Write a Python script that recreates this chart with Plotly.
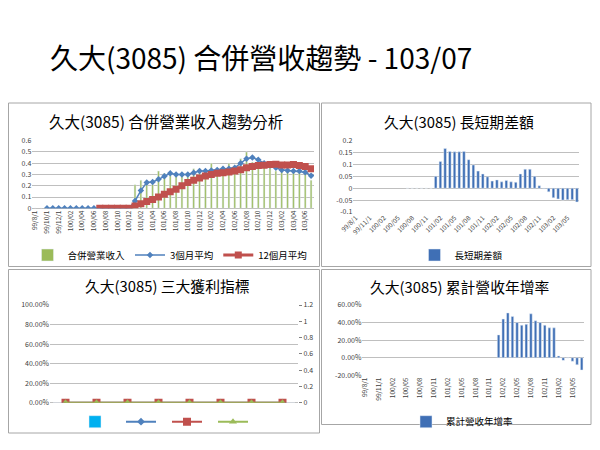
import plotly.graph_objects as go

FONT = "Noto Sans CJK TC"

months = (["99/8/1", "99/9/1", "99/10/1", "99/11/1", "99/12/1"]
          + [f"{y}/{m:02d}" for y in (100, 101, 102) for m in range(1, 13)]
          + [f"103/{m:02d}" for m in range(1, 8)])

revenue = ([0] * 17 +
           [0.21, 0.25, 0.23, 0.21, 0.33, 0.31, 0.29, 0.30, 0.31, 0.29, 0.35, 0.35,
            0.28, 0.40, 0.35, 0.30, 0.40, 0.36, 0.44, 0.50, 0.41, 0.38, 0.40, 0.36,
            0.33, 0.34, 0.34, 0.32, 0.34, 0.31, 0.25])
avg3 = ([None] * 2 + [0] * 15 +
        [0.065, 0.157, 0.23, 0.233, 0.257, 0.284, 0.31, 0.30, 0.30, 0.30, 0.316, 0.33,
         0.33, 0.335, 0.34, 0.35, 0.35, 0.36, 0.40, 0.44, 0.45, 0.43, 0.40, 0.38,
         0.36, 0.34, 0.335, 0.33, 0.33, 0.32, 0.29])
avg12 = ([None] * 11 + [0] * 6 +
         [0.02, 0.04, 0.06, 0.077, 0.10, 0.125, 0.148, 0.17, 0.20, 0.228, 0.25, 0.27,
          0.287, 0.30, 0.31, 0.316, 0.322, 0.33, 0.343, 0.36, 0.37, 0.38, 0.382, 0.388,
          0.39, 0.385, 0.385, 0.388, 0.38, 0.37, 0.352])
diff = ([None] * 11 + [0] * 6 +
        [0.05, 0.113, 0.167, 0.155, 0.153, 0.153, 0.155, 0.12, 0.098, 0.072, 0.06, 0.048,
         0.03, 0.035, 0.027, 0.033, 0.027, 0.025, 0.06, 0.08, 0.08, 0.05, 0.01, -0.002,
         -0.015, -0.04, -0.045, -0.05, -0.048, -0.048, -0.058])
growth = ([None] * 29 +
          [0.26, 0.44, 0.51, 0.47, 0.40, 0.37, 0.38, 0.50, 0.42, 0.40, 0.37, 0.34,
           0.34, 0.02, -0.03, -0.003, -0.04, -0.08, -0.14])

profit_cats = ["1", "2", "3", "4", "5", "6", "7", "8"]
profit_bar = [0, 0, 0, 0, 0, 0, 0, 0]
profit_l1 = [0, 0, 0, 0, 0, 0, 0, 0]
profit_l2 = [0, 0, 0, 0, 0, 0, 0, 0]
profit_l3 = [0, 0, 0, 0, 0, 0, 0, 0]

rev_ticks = [0, 0.1, 0.2, 0.3, 0.4, 0.5, 0.6]
rev_ticktext = ["0", "0.1", "0.2", "0.3", "0.4", "0.5", "0.6"]
diff_ticks = [0.2, 0.15, 0.1, 0.05, 0, -0.05, -0.1]
diff_ticktext = ["0.2", "0.15", "0.1", "0.05", "0", "-0.05", "-0.1"]
pct_ticks = [0, 0.2, 0.4, 0.6, 0.8, 1.0]
pct_ticktext = ["0.00%", "20.00%", "40.00%", "60.00%", "80.00%", "100.00%"]
right_ticks = [0, 0.2, 0.4, 0.6, 0.8, 1.0, 1.2]
right_ticktext = ["0", "0.2", "0.4", "0.6", "0.8", "1", "1.2"]
growth_ticks = [0.6, 0.4, 0.2, 0, -0.2]
growth_ticktext = ["60.00%", "40.00%", "20.00%", "0.00%", "-20.00%"]

GREEN = "#9BBB59"
BLUE = "#4F81BD"
RED = "#C0504D"
BARBLUE = "#3F6FB5"
GRID = "#BFBFBF"
TICKC = "#404040"

# the page body has an 8px margin; figure is sized to fit the 600x450 window
OFF = 8
W, H = 600 - OFF, 450 - OFF


def px_x(p):
    return (p - OFF) / W


def px_y(p):
    return 1 - (p - OFF) / H


fig = go.Figure()

# Panel 1
fig.add_trace(go.Bar(x=months, y=revenue, name="合併營業收入", marker_color=GREEN,
                     width=0.3, xaxis="x", yaxis="y", legend="legend"))
fig.add_trace(go.Scatter(x=months, y=avg3, name="3個月平均", mode="lines+markers",
                         line=dict(color=BLUE, width=1.5),
                         marker=dict(symbol="diamond", size=5, color=BLUE),
                         xaxis="x", yaxis="y", legend="legend"))
fig.add_trace(go.Scatter(x=months, y=avg12, name="12個月平均", mode="lines+markers",
                         line=dict(color=RED, width=3),
                         marker=dict(symbol="square", size=7, color=RED),
                         xaxis="x", yaxis="y", legend="legend"))
# Panel 2
fig.add_trace(go.Bar(x=months, y=diff, name="長短期差額", marker_color=BARBLUE,
                     width=0.55, xaxis="x2", yaxis="y2", legend="legend2"))
# Panel 3
fig.add_trace(go.Bar(x=profit_cats, y=profit_bar, name=" ", marker_color="#00B0F0",
                     xaxis="x3", yaxis="y3", legend="legend3"))
fig.add_trace(go.Scatter(x=profit_cats, y=profit_l1, name=" ", mode="lines+markers",
                         line=dict(color=BLUE, width=2),
                         marker=dict(symbol="diamond", size=6, color=BLUE),
                         xaxis="x3", yaxis="y4", legend="legend3"))
fig.add_trace(go.Scatter(x=profit_cats, y=profit_l2, name=" ", mode="lines+markers",
                         line=dict(color=RED, width=2),
                         marker=dict(symbol="square", size=8, color=RED),
                         xaxis="x3", yaxis="y4", legend="legend3"))
fig.add_trace(go.Scatter(x=profit_cats, y=profit_l3, name=" ", mode="lines+markers",
                         line=dict(color=GREEN, width=2),
                         marker=dict(symbol="triangle-up", size=7, color=GREEN),
                         xaxis="x3", yaxis="y4", legend="legend3"))
# Panel 4
fig.add_trace(go.Bar(x=months, y=growth, name="累計營收年增率", marker_color=BARBLUE,
                     width=0.55, xaxis="x4", yaxis="y5", legend="legend4"))

tickfont = dict(family=FONT, size=7, color=TICKC)
xtickfont = dict(family=FONT, size=6.5, color=TICKC)

common_x = dict(showgrid=False, showline=False, ticks="", automargin=False,
                zeroline=False)
common_y = dict(showgrid=True, gridcolor=GRID, gridwidth=1, zeroline=True,
                zerolinecolor=GRID, zerolinewidth=1, ticks="", automargin=False,
                tickfont=tickfont, tickmode="array")

layout = dict(
    width=W, height=H,
    margin=dict(l=0, r=0, t=0, b=0, autoexpand=False),
    paper_bgcolor="white", plot_bgcolor="rgba(0,0,0,0)",
    font=dict(family=FONT, color="#000"),
    barmode="overlay",
    xaxis=dict(domain=[px_x(32.3), px_x(314)], type="category", categoryorder="array",
               categoryarray=months, range=[-0.5, 47.5],
               tickmode="array", tickvals=months[::2], ticktext=months[::2],
               tickangle=-90, tickfont=xtickfont, anchor="y", **common_x),
    yaxis=dict(domain=[px_y(208.3), px_y(140.7)], range=[0, 0.6],
               tickvals=rev_ticks, ticktext=rev_ticktext, anchor="x", **common_y),
    xaxis2=dict(domain=[px_x(353.3), px_x(579.3)], type="category", categoryorder="array",
                categoryarray=months, range=[-0.5, 47.5],
                tickmode="array", tickvals=months[::3], ticktext=months[::3],
                tickangle=-45, tickfont=xtickfont, anchor="y2", **common_x),
    yaxis2=dict(domain=[px_y(212), px_y(140.7)], range=[-0.1, 0.2],
                tickvals=diff_ticks, ticktext=diff_ticktext, anchor="x2", **common_y),
    xaxis3=dict(domain=[px_x(50), px_x(298)], type="category", range=[-0.5, 7.5],
                showticklabels=False, anchor="y3", **common_x),
    yaxis3=dict(domain=[px_y(402.7), px_y(305)], range=[0, 1],
                tickvals=pct_ticks, ticktext=pct_ticktext, anchor="x3", **common_y),
    yaxis4=dict(overlaying="y3", side="right", range=[0, 1.2],
                tickmode="array", tickvals=right_ticks, ticktext=right_ticktext,
                showgrid=False, zeroline=False, tickfont=tickfont, automargin=False,
                anchor="x3", ticks="outside", ticklen=3, tickcolor="#808080"),
    xaxis4=dict(domain=[px_x(362.4), px_x(584)], type="category", categoryorder="array",
                categoryarray=months, range=[-0.5, 47.5],
                tickmode="array", tickvals=months[::3], ticktext=months[::3],
                tickangle=-90, tickfont=xtickfont, anchor="y5", **common_x),
    yaxis5=dict(domain=[px_y(375.3), px_y(305)], range=[-0.2, 0.6],
                tickvals=growth_ticks, ticktext=growth_ticktext, anchor="x4", **common_y),
    legend=dict(orientation="h", x=px_x(170), y=px_y(255), xanchor="center",
                yanchor="middle", font=dict(family=FONT, size=9.5, color="#000"),
                bgcolor="rgba(0,0,0,0)", itemwidth=30),
    legend2=dict(orientation="h", x=px_x(461), y=px_y(255), xanchor="center",
                 yanchor="middle", font=dict(family=FONT, size=9.5, color="#000"),
                 bgcolor="rgba(0,0,0,0)", itemwidth=30),
    legend3=dict(orientation="h", x=px_x(167), y=px_y(421.7), xanchor="center",
                 yanchor="middle", font=dict(family=FONT, size=9, color="#000"),
                 bgcolor="rgba(0,0,0,0)", itemwidth=30, entrywidth=1),
    legend4=dict(orientation="h", x=px_x(462), y=px_y(421.7), xanchor="center",
                 yanchor="middle", font=dict(family=FONT, size=9.5, color="#000"),
                 bgcolor="rgba(0,0,0,0)", itemwidth=30),
)
fig.update_layout(**layout)

annotations = [
    dict(text="久大(3085) 合併營收趨勢 - 103/07", x=px_x(261), y=px_y(56.5), size=28),
    dict(text="久大(3085) 合併營業收入趨勢分析", x=px_x(166), y=px_y(121), size=15.5),
    dict(text="久大(3085) 長短期差額", x=px_x(459), y=px_y(121.7), size=14.8),
    dict(text="久大(3085) 三大獲利指標", x=px_x(167), y=px_y(285.7), size=14.8),
    dict(text="久大(3085) 累計營收年增率", x=px_x(460), y=px_y(286), size=14.8),
]
for a in annotations:
    fig.add_annotation(text=a["text"], x=a["x"], y=a["y"], xref="paper", yref="paper",
                       xanchor="center", yanchor="middle", showarrow=False,
                       font=dict(family=FONT, size=a["size"], color="#000"))

panels = [(8.5, 103, 319.5, 266.5), (321.5, 103, 591, 266.5),
          (8.5, 269.5, 319.5, 433), (321.5, 269.5, 591, 424.5)]
for (x0, y0, x1, y1) in panels:
    fig.add_shape(type="rect", xref="paper", yref="paper",
                  x0=px_x(x0), x1=px_x(x1), y0=px_y(y1), y1=px_y(y0),
                  line=dict(color="#A6A6A6", width=1), fillcolor="rgba(0,0,0,0)",
                  layer="below")

fig.write_html("out.html")
